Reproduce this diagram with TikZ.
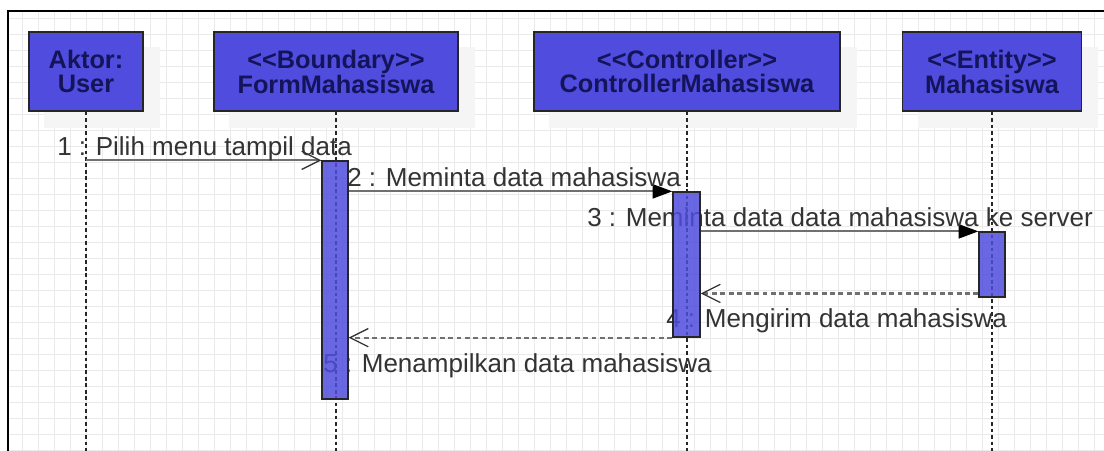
\documentclass[tikz,border=0pt]{standalone}
\usepackage{fontspec}
\setmainfont{Liberation Sans}
\usetikzlibrary{arrows.meta}

\definecolor{boxblue}{RGB}{80,76,222}
\definecolor{boxtext}{RGB}{20,20,90}
\definecolor{msggray}{RGB}{112,112,112}
\definecolor{gridgray}{RGB}{234,234,234}

\pgfdeclarelayer{background}
\pgfdeclarelayer{front}
\pgfsetlayers{background,main,front}

% <<...>> without the guillemet ligature
\newcommand{\stereotype}[1]{<\kern0pt<#1>\kern0pt>}

\tikzset{
  objbox/.style={draw=black!85, line width=1pt, fill=boxblue, text=boxtext,
    font=\fontsize{18}{16.5}\selectfont\bfseries, align=center,
    minimum height=1.975cm, inner sep=0pt},
  shadowbox/.style={fill=black!4},
  actbox/.style={draw=black!85, line width=0.9pt, fill=boxblue, fill opacity=0.85,
    minimum width=0.65cm, inner sep=0pt},
  lifeline/.style={draw=black!85, line width=1.6pt, dash pattern=on 2.6pt off 2pt},
  msg/.style={draw=msggray, line width=1.4pt,
    -{Triangle[length=14pt,width=10pt,color=black]}},
  callmsg/.style={draw=msggray, line width=1.4pt,
    -{Straight Barb[length=13pt,width=13pt,line width=0.9pt,color=black!80]}},
  retmsg/.style={draw=msggray, line width=1.6pt, dash pattern=on 3.5pt off 2.5pt,
    -{Straight Barb[length=13pt,width=13pt,line width=0.9pt,color=black!80]}},
  msglabel/.style={font=\fontsize{18.5}{22}\selectfont, text=black!80,
    inner sep=0pt, anchor=base west},
  gridline/.style={draw=gridgray, line width=0.6pt},
}

\begin{document}
\begin{tikzpicture}[x=0.025cm, y=-0.025cm]
  \useasboundingbox (0,0) rectangle (1104,450);

  % grid paper
  \begin{pgfonlayer}{background}
    \foreach \x in {22,38,...,1104} \draw[gridline] (\x,12) -- (\x,450);
    \foreach \y in {18,34,...,450} \draw[gridline] (9,\y) -- (1104,\y);
  \end{pgfonlayer}

  % frame
  \draw[line width=1.4pt] (8,452) -- (8,11) -- (1106,11);

  % objects
  \node[objbox, minimum width=2.85cm] (user) at (86,71.5) {Aktor:\\User};
  \node[objbox, minimum width=6.1cm] (form) at (336,71.5) {\stereotype{Boundary}\\FormMahasiswa};
  \node[objbox, minimum width=7.65cm] (ctrl) at (687,71.5) {\stereotype{Controller}\\ControllerMahasiswa};
  \node[objbox, minimum width=4.475cm] (ent) at (992,71.5) {\stereotype{Entity}\\Mahasiswa};

  % shadows
  \begin{pgfonlayer}{background}
    \foreach \b in {user,form,ctrl,ent}
      \fill[shadowbox] ([shift={(16,16)}]\b.south west) rectangle ([shift={(16,16)}]\b.north east);
  \end{pgfonlayer}

  % lifelines
  \coordinate (bottom) at (0,452);
  \foreach \b in {user,form,ctrl,ent}
    \draw[lifeline] (\b.south) -- (\b.south |- bottom);

  % activations
  \begin{pgfonlayer}{front}
    \node[actbox, minimum height=5.95cm] (actB) at (335,280) {};
    \node[actbox, minimum width=0.675cm, minimum height=3.625cm] (actC) at (686.5,264.5) {};
    \node[actbox, minimum height=1.625cm] (actE) at (992,264.5) {};
  \end{pgfonlayer}

  % messages
  \draw[callmsg] (actB.north west -| user.south) -- (actB.north west);
  \draw[msg] (actC.north west -| actB.east) -- (actC.north west);
  \draw[msg] (actE.north west -| actC.east) -- (actE.north west);
  \coordinate (r4) at ([yshift=3pt]actE.south west);
  \draw[retmsg] (r4) -- (r4 -| actC.east);
  \draw[retmsg] (actC.south west) -- (actC.south west -| actB.east);

  % labels
  \node[msglabel] (l1) at (57,155) {1 : Pilih menu tampil data};
  \node[msglabel] (l2) at (347,186) {2 : Meminta data mahasiswa};
  \node[msglabel] (l3) at (587,226) {3 : Meminta data data mahasiswa ke server};
  \node[msglabel] (l4) at (666,327) {4 : Mengirim data mahasiswa};
  \node[msglabel] (l5) at (323,372) {5 : Menampilkan data mahasiswa};
\end{tikzpicture}
\end{document}
